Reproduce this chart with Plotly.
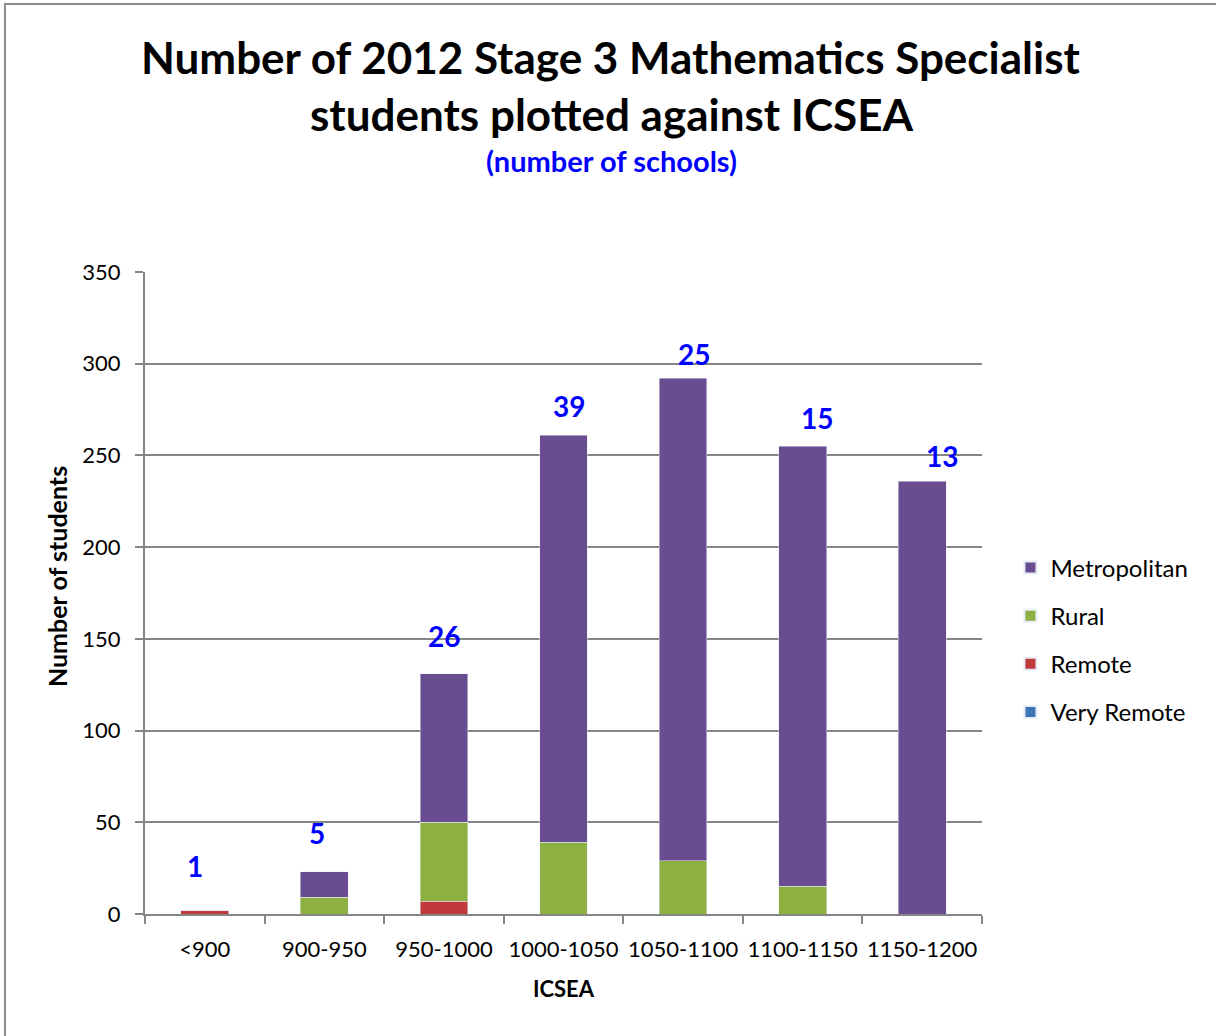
import plotly.graph_objects as go

categories = ["<900", "900-950", "950-1000", "1000-1050", "1050-1100", "1100-1150", "1150-1200"]
metropolitan = [0, 14, 81, 222, 263, 240, 236]
rural = [0, 9, 43, 39, 29, 15, 0]
remote = [2, 0, 7, 0, 0, 0, 0]
very_remote = [0, 0, 0, 0, 0, 0, 0]
school_counts = [1, 5, 26, 39, 25, 15, 13]

# label nudges (pixels) to mimic placement in the original
label_xshift = [-10, -7, 0, 5, 11, 14, 20]
label_yshift = [44, 39, 38, 29, 24, 28, 25]

FONT = "Lato, 'Noto Sans', sans-serif"

fig = go.Figure()
fig.add_trace(go.Bar(name="Very Remote", x=categories, y=very_remote, marker_color="#3D74B9",
                     legendgroup="d", legendrank=4))
fig.add_trace(go.Bar(name="Remote", x=categories, y=remote, marker_color="#C0393B",
                     legendgroup="c", legendrank=3))
fig.add_trace(go.Bar(name="Rural", x=categories, y=rural, marker_color="#8DB043",
                     legendgroup="b", legendrank=2))
fig.add_trace(go.Bar(name="Metropolitan", x=categories, y=metropolitan, marker_color="#6A4C91",
                     legendgroup="a", legendrank=1))

totals = [a + b + c + d for a, b, c, d in zip(metropolitan, rural, remote, very_remote)]
annotations = []
for cat, tot, n, xs, ys in zip(categories, totals, school_counts, label_xshift, label_yshift):
    annotations.append(dict(x=cat, y=tot, text="<b>%d</b>" % n, showarrow=False, xref="x", yref="y",
                            xshift=xs, yshift=ys, yanchor="middle",
                            font=dict(family=FONT, size=28, color="#0000FF")))
annotations += [
    dict(text="<b>Number of 2012 Stage 3 Mathematics Specialist</b>", xref="paper", yref="paper",
         x=0.557, y=1.3349, xanchor="center", yanchor="middle", showarrow=False,
         font=dict(family=FONT, size=44, color="#000000")),
    dict(text="<b>students plotted against ICSEA</b>", xref="paper", yref="paper",
         x=0.557, y=1.2461, xanchor="center", yanchor="middle", showarrow=False,
         font=dict(family=FONT, size=44, color="#000000")),
    dict(text="<b>(number of schools)</b>", xref="paper", yref="paper",
         x=0.557, y=1.1729, xanchor="center", yanchor="middle", showarrow=False,
         font=dict(family=FONT, size=29, color="#0000FF")),
    dict(text="<b>Number of students</b>", xref="paper", yref="paper", textangle=-90,
         x=-0.105, y=0.525, xanchor="center", yanchor="middle", showarrow=False,
         font=dict(family=FONT, size=25, color="#000000")),
]

fig.update_layout(
    width=1216, height=1036,
    barmode="stack", bargap=0.6,
    paper_bgcolor="white", plot_bgcolor="white",
    margin=dict(l=145, r=234, t=272, b=122, autoexpand=False),
    font=dict(family=FONT, size=22, color="#000000"),
    legend=dict(traceorder="grouped", x=1.034, y=0.427, xanchor="left", yanchor="middle",
                font=dict(family=FONT, size=24), tracegroupgap=14,
                itemsizing="constant"),
    annotations=annotations,
    shapes=[dict(type="rect", xref="paper", yref="paper", x0=-0.1673, x1=1.29, y0=-0.3, y1=1.4174,
                 line=dict(color="#8C8C8C", width=2), fillcolor="rgba(0,0,0,0)", layer="below")],
)
fig.update_xaxes(title=dict(text="<b>ICSEA</b>", font=dict(size=22), standoff=20),
                 showline=True, linecolor="#868686", linewidth=2,
                 ticks="outside", tickson="boundaries", ticklen=8, tickcolor="#868686", tickwidth=2,
                 tickangle=0, ticklabelstandoff=15,
                 tickfont=dict(size=22), showgrid=False, automargin=False)
fig.update_yaxes(range=[0, 350], dtick=50, showline=True, linecolor="#868686", linewidth=2,
                 ticks="outside", ticklen=8, tickcolor="#868686", tickwidth=2,
                 ticklabelstandoff=10,
                 gridcolor="#868686", gridwidth=1.5, zeroline=False,
                 tickfont=dict(size=22), automargin=False)

fig.write_html("out.html", config={"displayModeBar": False},
               post_script="document.body.style.margin='0';document.body.style.overflow='hidden';")
